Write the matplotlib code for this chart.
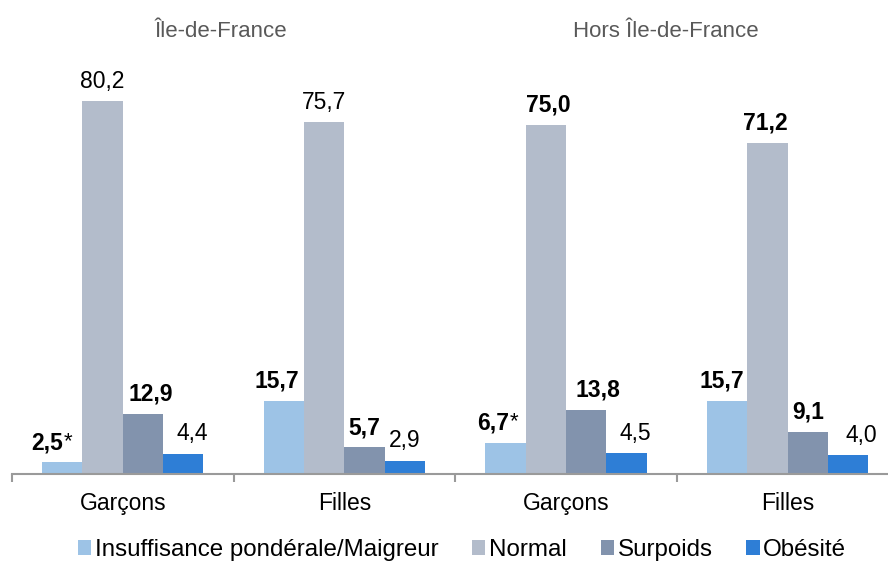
import matplotlib.pyplot as plt
import numpy as np

plt.rcParams['font.family'] = ['Liberation Sans', 'DejaVu Sans']

# data
categories = ['Garçons', 'Filles', 'Garçons', 'Filles']
regions = ['Île-de-France', 'Hors Île-de-France']
series_names = ['Insuffisance pondérale/Maigreur', 'Normal', 'Surpoids', 'Obésité']
insuffisance = [2.5, 15.7, 6.7, 15.7]
normal = [80.2, 75.7, 75.0, 71.2]
surpoids = [12.9, 5.7, 13.8, 9.1]
obesite = [4.4, 2.9, 4.5, 4.0]
series_values = [insuffisance, normal, surpoids, obesite]
bold_flags = [[True, True, True, True],
              [False, False, True, True],
              [True, True, True, True],
              [False, False, False, False]]
star_flags = [[True, False, True, False],
              [False, False, False, False],
              [False, False, False, False],
              [False, False, False, False]]

# style
colors = ['#9DC3E6', '#B3BCCB', '#8293AD', '#2E7ED6']
# horizontal nudges of the value labels, in pixels
label_dx = [[-15, -7, -12, -5],
            [0, 0, 2, -2],
            [8, 0, 12, 0],
            [9, 0, 9, 13]]

W, H = 888, 565
fig = plt.figure(figsize=(W / 100, H / 100), dpi=100)
cat_w = 221.6
px_per_unit = 4.65
ymax = 90
ax = fig.add_axes([12 / W, (H - 474) / H, 4 * cat_w / W, ymax * px_per_unit / H])

x = np.arange(len(categories))
bw = 0.182
for i, (vals, col) in enumerate(zip(series_values, colors)):
    pos = x + (i - 1.5) * bw
    ax.bar(pos, vals, width=bw, color=col, label=series_names[i], linewidth=0)
    for j, v in enumerate(vals):
        txt = f'{v:.1f}'.replace('.', ',')
        t = ax.annotate(txt, xy=(pos[j], v), xytext=(label_dx[i][j] / 1.389, 6),
                        textcoords='offset points', ha='center', va='bottom',
                        fontsize=16.5, color='black',
                        fontweight='bold' if bold_flags[i][j] else 'normal')
        if star_flags[i][j]:
            ax.annotate('*', xy=(1, 1), xycoords=t, xytext=(0.5, 0),
                        textcoords='offset points', ha='left', va='top',
                        fontsize=16, color='black')

ax.set_xlim(-0.5, len(categories) - 0.5)
ax.set_ylim(0, ymax)
for s in ['left', 'right', 'top']:
    ax.spines[s].set_visible(False)
ax.spines['bottom'].set_color('#9A9A9A')
ax.spines['bottom'].set_linewidth(1.5)
ax.set_yticks([])
ax.set_xticks(np.arange(-0.5, len(categories)))
ax.set_xticklabels([])
ax.tick_params(axis='x', which='major', length=6, width=1.5, color='#9A9A9A')
ax.set_xticks(x, minor=True)
ax.set_xticklabels(categories, minor=True, fontsize=16.5)
ax.tick_params(axis='x', which='minor', length=0, pad=13)

fig.text(221 / W, 1 - 37 / H, regions[0], ha='center', va='baseline',
         fontsize=16, color='#595959')
fig.text(666 / W, 1 - 37 / H, regions[1], ha='center', va='baseline',
         fontsize=16, color='#595959')

fig.legend(loc='center', bbox_to_anchor=(462 / W, 15 / H), ncol=4, frameon=False,
           fontsize=17.4, handlelength=0.55, handleheight=0.55, handletextpad=0.15,
           columnspacing=1.4, borderaxespad=0, borderpad=0)

fig.savefig('out.png', dpi=100)
